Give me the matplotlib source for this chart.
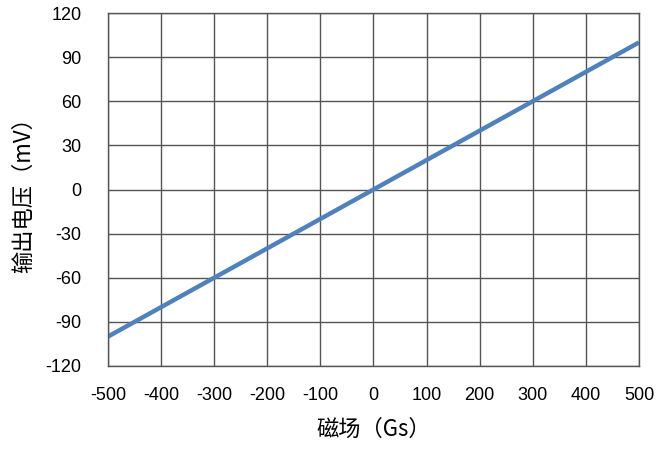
import matplotlib
matplotlib.use("Agg")
import matplotlib.pyplot as plt

# 磁场 (Gs) 与输出电压 (mV)
field_gs = [-500, -400, -300, -200, -100, 0, 100, 200, 300, 400, 500]
voltage_mv = [-100, -80, -60, -40, -20, 0, 20, 40, 60, 80, 100]

x_ticks = list(range(-500, 501, 100))
y_ticks = list(range(-120, 121, 30))

plt.rcParams['font.family'] = ['Liberation Sans', 'Noto Sans CJK SC', 'DejaVu Sans']
plt.rcParams['axes.unicode_minus'] = False

fig = plt.figure(figsize=(6.6, 4.5), dpi=100)
ax = fig.add_axes([0.1636, 0.1867, 0.8045, 0.7843])

ax.plot(field_gs, voltage_mv, color='#4f81bd', linewidth=3.2, solid_capstyle='butt')

ax.set_xlim(-500, 500)
ax.set_ylim(-120, 120)
ax.set_xticks(x_ticks)
ax.set_yticks(y_ticks)
ax.set_xticklabels([str(v) for v in x_ticks], family='Liberation Sans')
ax.set_yticklabels([str(v) for v in y_ticks], family='Liberation Sans')
ax.grid(True, color='#555555', linewidth=1.0)
ax.set_axisbelow(True)
for sp in ax.spines.values():
    sp.set_color('#555555')
    sp.set_linewidth(1.0)

ax.tick_params(axis='both', length=0, labelsize=13)
ax.tick_params(axis='x', pad=15)
ax.tick_params(axis='y', pad=19)

ax.set_xlabel('磁场（Gs）', fontsize=16, family=['Noto Sans CJK SC', 'DejaVu Sans'], labelpad=10)
ax.set_ylabel('输出电压（mV）', fontsize=16, family=['Noto Sans CJK SC', 'DejaVu Sans'], labelpad=8)

fig.savefig('out.png', dpi=100)
